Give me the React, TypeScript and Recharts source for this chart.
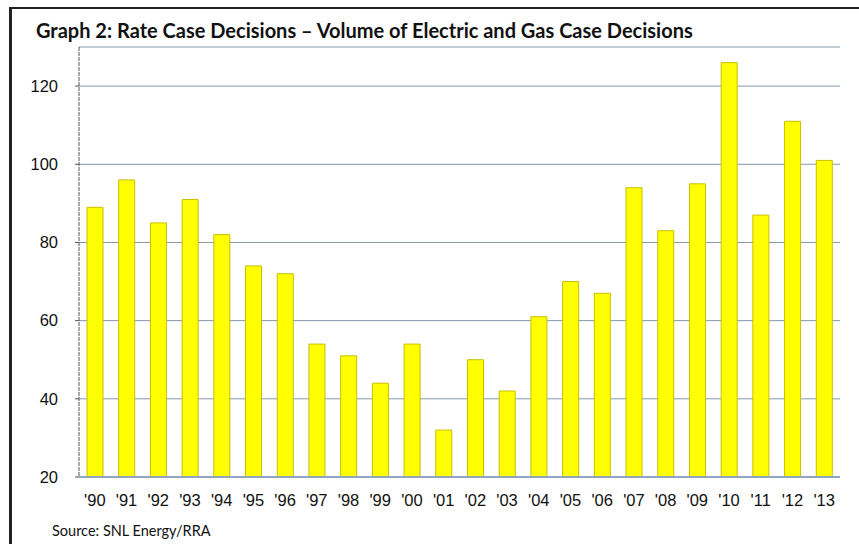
import { BarChart, Bar, XAxis, YAxis, CartesianGrid } from 'recharts';

const years = [
  "'90", "'91", "'92", "'93", "'94", "'95", "'96", "'97", "'98", "'99", "'00", "'01",
  "'02", "'03", "'04", "'05", "'06", "'07", "'08", "'09", "'10", "'11", "'12", "'13",
];

const decisions = [
  89, 96, 85, 91, 82, 74, 72, 54, 51, 44, 54, 32,
  50, 42, 61, 70, 67, 94, 83, 95, 126, 87, 111, 101,
];

const yTicks = [20, 40, 60, 80, 100, 120];

const chartData = years.map((year, i) => ({ year, value: decisions[i] }));

export default function App() {
  return (
    <div
      style={{
        position: 'fixed',
        left: 0,
        top: 0,
        width: 859,
        height: 544,
        background: '#fff',
        overflow: 'hidden',
      }}
    >
      {/* frame of the scanned box */}
      <div
        style={{
          position: 'absolute',
          left: 9,
          top: 7,
          width: 860,
          height: 560,
          borderTop: '2px solid #222',
          borderLeft: '3px solid #222',
        }}
      />
      <div
        style={{
          position: 'absolute',
          left: 36,
          top: 18,
          fontFamily: 'Lato, "Open Sans", sans-serif',
          fontWeight: 700,
          fontSize: 20,
          color: '#111',
          whiteSpace: 'nowrap',
        }}
      >
        Graph 2: Rate Case Decisions – Volume of Electric and Gas Case Decisions
      </div>
      <div style={{ position: 'absolute', left: 0, top: 0 }}>
        <BarChart
          width={859}
          height={544}
          data={chartData}
          margin={{ top: 47, right: 19, bottom: 37, left: 0 }}
          barSize={16}
        >
          <CartesianGrid vertical={false} stroke="#8497ac" strokeWidth={1} />
          <XAxis
            dataKey="year"
            interval={0}
            tickLine={false}
            axisLine={{ stroke: '#8fa6be', strokeWidth: 2 }}
            tickMargin={11}
            tick={{ fill: '#111', fontSize: 16.5, fontFamily: '"Liberation Sans", Arial, sans-serif' }}
          />
          <YAxis
            width={79}
            domain={[20, 130]}
            ticks={yTicks}
            allowDataOverflow
            tickSize={4}
            tickMargin={17}
            tickLine={{ stroke: '#555' }}
            axisLine={{ stroke: '#555', strokeDasharray: '4 1' }}
            tick={{ fill: '#111', fontSize: 16.5, fontFamily: '"Liberation Sans", Arial, sans-serif' }}
          />
          <Bar
            dataKey="value"
            fill="#ffff00"
            stroke="#c9bf00"
            strokeWidth={1}
            isAnimationActive={false}
          />
        </BarChart>
      </div>
      <div
        style={{
          position: 'absolute',
          left: 52,
          top: 522,
          fontFamily: 'Lato, "Open Sans", sans-serif',
          fontSize: 14.5,
          color: '#111',
          whiteSpace: 'nowrap',
        }}
      >
        Source: SNL Energy/RRA
      </div>
    </div>
  );
}
